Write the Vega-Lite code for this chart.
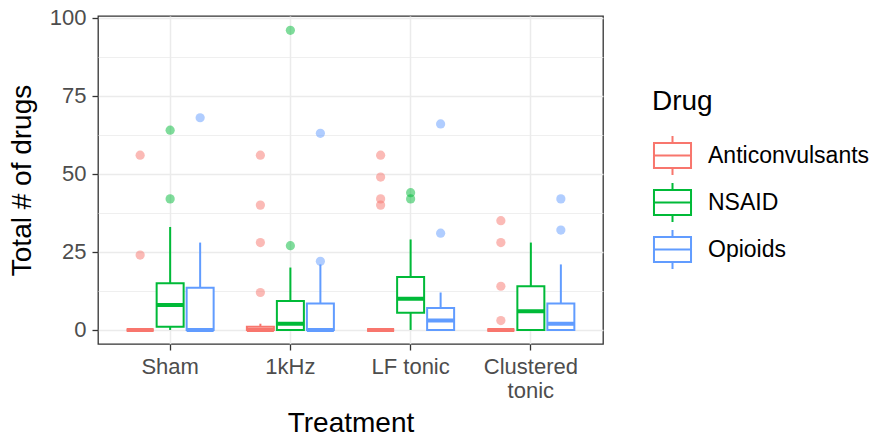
{
  "$schema": "https://vega.github.io/schema/vega-lite/v6.json",
  "width": 505,
  "height": 328,
  "autosize": {"type": "none"},
  "padding": {"left": 98, "top": 16, "right": 272, "bottom": 93},
  "background": "white",
  "config": {
    "font": "Liberation Sans",
    "view": {"stroke": "#333333", "strokeWidth": 1.3},
    "axis": {
      "domain": false,
      "grid": true,
      "gridColor": "#EBEBEB",
      "tickColor": "#333333",
      "tickWidth": 1.3,
      "tickSize": 6,
      "labelColor": "#4D4D4D",
      "labelFontSize": 22,
      "titleFontSize": 28,
      "titleFontWeight": "normal",
      "titleColor": "black"
    }
  },
  "datasets": {
    "boxes": [
      {"Treatment": "Sham", "Drug": "Anticonvulsants", "lower": 0, "q1": 0, "median": 0, "q3": 0, "upper": 0},
      {"Treatment": "Sham", "Drug": "NSAID", "lower": 0, "q1": 1, "median": 8, "q3": 15, "upper": 33},
      {"Treatment": "Sham", "Drug": "Opioids", "lower": 0, "q1": 0, "median": 0, "q3": 13.5, "upper": 28},
      {"Treatment": "1kHz", "Drug": "Anticonvulsants", "lower": 0, "q1": 0, "median": 0, "q3": 1, "upper": 2},
      {"Treatment": "1kHz", "Drug": "NSAID", "lower": 0, "q1": 0, "median": 2, "q3": 9.25, "upper": 20},
      {"Treatment": "1kHz", "Drug": "Opioids", "lower": 0, "q1": 0, "median": 0, "q3": 8.5, "upper": 21},
      {"Treatment": "LF tonic", "Drug": "Anticonvulsants", "lower": 0, "q1": 0, "median": 0, "q3": 0, "upper": 0},
      {"Treatment": "LF tonic", "Drug": "NSAID", "lower": 0, "q1": 5.5, "median": 10, "q3": 17, "upper": 29},
      {"Treatment": "LF tonic", "Drug": "Opioids", "lower": 0, "q1": 0, "median": 3, "q3": 7, "upper": 12},
      {"Treatment": "Clustered tonic", "Drug": "Anticonvulsants", "lower": 0, "q1": 0, "median": 0, "q3": 0, "upper": 0},
      {"Treatment": "Clustered tonic", "Drug": "NSAID", "lower": 0, "q1": 0, "median": 6, "q3": 14, "upper": 28},
      {"Treatment": "Clustered tonic", "Drug": "Opioids", "lower": 0, "q1": 0, "median": 2, "q3": 8.5, "upper": 21}
    ],
    "outliers": [
      {"Treatment": "Sham", "Drug": "Anticonvulsants", "value": 56},
      {"Treatment": "Sham", "Drug": "Anticonvulsants", "value": 24},
      {"Treatment": "Sham", "Drug": "NSAID", "value": 64},
      {"Treatment": "Sham", "Drug": "NSAID", "value": 42},
      {"Treatment": "Sham", "Drug": "Opioids", "value": 68},
      {"Treatment": "1kHz", "Drug": "Anticonvulsants", "value": 56},
      {"Treatment": "1kHz", "Drug": "Anticonvulsants", "value": 40},
      {"Treatment": "1kHz", "Drug": "Anticonvulsants", "value": 28},
      {"Treatment": "1kHz", "Drug": "Anticonvulsants", "value": 12},
      {"Treatment": "1kHz", "Drug": "NSAID", "value": 96},
      {"Treatment": "1kHz", "Drug": "NSAID", "value": 27},
      {"Treatment": "1kHz", "Drug": "Opioids", "value": 63},
      {"Treatment": "1kHz", "Drug": "Opioids", "value": 22},
      {"Treatment": "LF tonic", "Drug": "Anticonvulsants", "value": 56},
      {"Treatment": "LF tonic", "Drug": "Anticonvulsants", "value": 49},
      {"Treatment": "LF tonic", "Drug": "Anticonvulsants", "value": 42},
      {"Treatment": "LF tonic", "Drug": "Anticonvulsants", "value": 40},
      {"Treatment": "LF tonic", "Drug": "NSAID", "value": 44},
      {"Treatment": "LF tonic", "Drug": "NSAID", "value": 42},
      {"Treatment": "LF tonic", "Drug": "Opioids", "value": 66},
      {"Treatment": "LF tonic", "Drug": "Opioids", "value": 31},
      {"Treatment": "Clustered tonic", "Drug": "Anticonvulsants", "value": 35},
      {"Treatment": "Clustered tonic", "Drug": "Anticonvulsants", "value": 28},
      {"Treatment": "Clustered tonic", "Drug": "Anticonvulsants", "value": 14},
      {"Treatment": "Clustered tonic", "Drug": "Anticonvulsants", "value": 3},
      {"Treatment": "Clustered tonic", "Drug": "Opioids", "value": 42},
      {"Treatment": "Clustered tonic", "Drug": "Opioids", "value": 32}
    ]
  },
  "encoding": {
    "x": {
      "field": "Treatment",
      "type": "nominal",
      "sort": ["Sham", "1kHz", "LF tonic", "Clustered tonic"],
      "scale": {"paddingInner": 0, "paddingOuter": 0.1},
      "axis": {
        "title": "Treatment",
        "labelAngle": 0,
        "bandPosition": 0.5,
        "gridWidth": 1.5,
        "labelPadding": 6,
        "labelLineHeight": 24,
        "labelExpr": "datum.label == 'Clustered tonic' ? ['Clustered', 'tonic'] : datum.label",
        "titlePadding": 8
      }
    },
    "xOffset": {
      "field": "Drug",
      "type": "nominal",
      "sort": ["Anticonvulsants", "NSAID", "Opioids"],
      "scale": {"paddingInner": 0.1, "paddingOuter": 0.554}
    }
  },
  "layer": [
    {
      "data": {"name": "boxes"},
      "mark": {"type": "rule", "strokeWidth": 2},
      "encoding": {
        "y": {
          "field": "lower", "type": "quantitative",
          "scale": {"domain": [-4.5, 100.6], "nice": false, "zero": false},
          "axis": {
            "title": "Total # of drugs",
            "values": [0, 12.5, 25, 37.5, 50, 62.5, 75, 87.5, 100],
            "labelExpr": "datum.value % 25 === 0 ? datum.label : ''",
            "gridWidth": {"condition": {"test": "datum.value % 25 !== 0", "value": 0.8}, "value": 1.5},
            "tickOpacity": {"condition": {"test": "datum.value % 25 !== 0", "value": 0}, "value": 1},
            "labelPadding": 6,
            "titlePadding": 13
          }
        },
        "y2": {"field": "upper"},
        "stroke": {
          "field": "Drug", "type": "nominal",
          "scale": {"domain": ["Anticonvulsants", "NSAID", "Opioids"], "range": ["#F8766D", "#00BA38", "#619CFF"]},
          "legend": {
            "title": "Drug",
            "orient": "none",
            "legendX": 554,
            "legendY": 72,
            "padding": 0,
            "titleFontSize": 28,
            "titleFontWeight": "normal",
            "titleColor": "black",
            "titlePadding": 19,
            "labelFontSize": 23,
            "labelColor": "black",
            "labelLimit": 400,
            "labelOffset": 15,
            "rowPadding": 0,
            "symbolType": "M-0.95,-0.64H0.95V0.64H-0.95Z M-0.95,0H0.95 M0,-0.64V-1 M0,0.64V1",
            "symbolSize": 1521,
            "symbolStrokeWidth": 2,
            "symbolFillColor": "white",
            "encode": {"symbols": {"update": {"fill": {"value": "white"}, "fillOpacity": {"value": 1}}}}
          }
        }
      }
    },
    {
      "data": {"name": "boxes"},
      "mark": {"type": "bar", "fill": "white", "strokeWidth": 0},
      "encoding": {
        "y": {"field": "q1", "type": "quantitative"},
        "y2": {"field": "q3"}
      }
    },
    {
      "data": {"name": "boxes"},
      "mark": {"type": "bar", "filled": false, "strokeWidth": 2},
      "encoding": {
        "y": {"field": "q1", "type": "quantitative"},
        "y2": {"field": "q3"},
        "stroke": {"field": "Drug", "type": "nominal"}
      }
    },
    {
      "data": {"name": "boxes"},
      "mark": {"type": "bar", "filled": false, "strokeWidth": 4},
      "encoding": {
        "y": {"field": "median", "type": "quantitative"},
        "y2": {"field": "median"},
        "stroke": {"field": "Drug", "type": "nominal"}
      }
    },
    {
      "data": {"name": "outliers"},
      "mark": {"type": "circle", "opacity": 0.5, "size": 85},
      "encoding": {
        "y": {"field": "value", "type": "quantitative"},
        "fill": {
          "field": "Drug", "type": "nominal",
          "scale": {"range": ["#F8766D", "#00BA38", "#619CFF"]},
          "legend": null
        }
      }
    }
  ]
}
